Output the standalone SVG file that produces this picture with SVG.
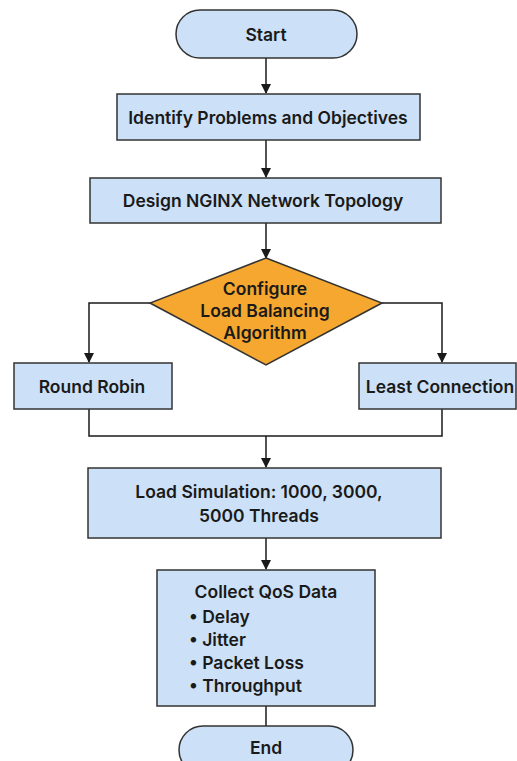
<svg xmlns="http://www.w3.org/2000/svg" width="517" height="761" viewBox="0 0 517 761">
<defs>
<marker id="arr" markerWidth="10" markerHeight="10" refX="9" refY="5" orient="auto" markerUnits="userSpaceOnUse">
<path d="M0,0 L10,5 L0,10 Z" fill="#1a1a1a"/>
</marker>
<style>
.box{fill:#cce1f7;stroke:#333;stroke-width:1.5}
.dia{fill:#f5a72f;stroke:#333;stroke-width:1.5}
.t{font-family:Inter,"Liberation Sans",sans-serif;font-weight:600;font-size:17.5px;fill:#1a1a1a;text-anchor:middle}
.l{text-anchor:start}
.c{fill:none;stroke:#1a1a1a;stroke-width:1.5}
</style>
</defs>
<rect width="517" height="761" fill="#fff"/>
<g id="connectors">
<line class="c" x1="266" y1="58" x2="266" y2="93" marker-end="url(#arr)"/>
<line class="c" x1="266" y1="140" x2="266" y2="177" marker-end="url(#arr)"/>
<line class="c" x1="266" y1="223" x2="266" y2="258" marker-end="url(#arr)"/>
<polyline class="c" points="150,303 89,303 89,362" marker-end="url(#arr)"/>
<polyline class="c" points="382,303 442,303 442,362" marker-end="url(#arr)"/>
<polyline class="c" points="89,409 89,436 442,436 442,409"/>
<line class="c" x1="266" y1="436" x2="266" y2="467" marker-end="url(#arr)"/>
<line class="c" x1="266" y1="538" x2="266" y2="569" marker-end="url(#arr)"/>
<line class="c" x1="266" y1="706" x2="266" y2="726"/>
</g>
<g id="start">
<rect class="box" x="176" y="10" width="181" height="48" rx="24"/>
<text class="t" x="266" y="41">Start</text>
</g>
<g id="identify">
<rect class="box" x="117" y="94" width="303" height="46"/>
<text class="t" x="268" y="124">Identify Problems and Objectives</text>
</g>
<g id="design">
<rect class="box" x="90" y="178" width="351" height="45"/>
<text class="t" x="263" y="207">Design NGINX Network Topology</text>
</g>
<g id="configure">
<polygon class="dia" points="266,258 382,303 266,365 150,303"/>
<text class="t" x="265" y="295">Configure</text>
<text class="t" x="265" y="317">Load Balancing</text>
<text class="t" x="265" y="339">Algorithm</text>
</g>
<g id="roundrobin">
<rect class="box" x="14" y="363" width="158" height="46"/>
<text class="t" x="92" y="393">Round Robin</text>
</g>
<g id="leastconn">
<rect class="box" x="359" y="363" width="157" height="46"/>
<text class="t" x="440" y="393">Least Connection</text>
</g>
<g id="loadsim">
<rect class="box" x="88" y="468" width="353" height="70"/>
<text class="t" x="259" y="498">Load Simulation: 1000, 3000,</text>
<text class="t" x="259" y="522">5000 Threads</text>
</g>
<g id="collect">
<rect class="box" x="157" y="570" width="218" height="136"/>
<text class="t" x="266" y="598">Collect QoS Data</text>
<text class="t l" x="189" y="623">• Delay</text>
<text class="t l" x="189" y="646">• Jitter</text>
<text class="t l" x="189" y="669">• Packet Loss</text>
<text class="t l" x="189" y="692">• Throughput</text>
</g>
<g id="end">
<rect class="box" x="179" y="726" width="174" height="48" rx="24"/>
<text class="t" x="266" y="754">End</text>
</g>
</svg>
